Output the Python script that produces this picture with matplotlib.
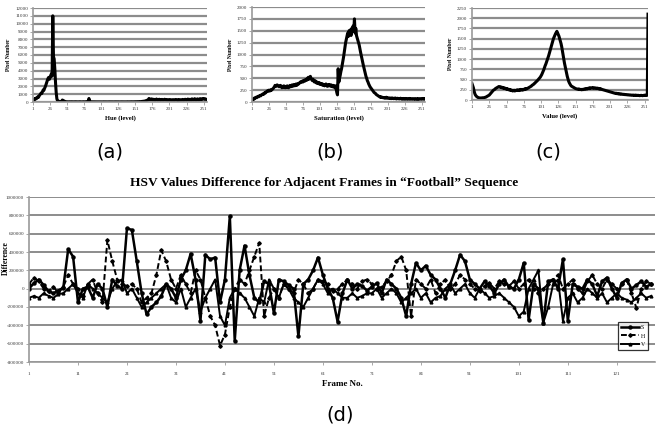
"""
HSV histogram panels (a)-(c) and frame-difference plot (d)
"""

import matplotlib
matplotlib.use('Agg')
import matplotlib.pyplot as plt
import numpy as np

# ---- data -------------------------------------------------------------
hue_counts = [
    300, 250, 380, 350, 480, 420, 560, 650, 600, 780, 900, 1000, 1150, 1100, 1350, 1550,
    1500, 1750, 1950, 2200, 2500, 2750, 3000, 3150, 2900, 3100, 3400, 3600, 3300, 11000, 5800, 5500,
    4200, 2500, 1200, 400, 150, 100, 80, 60, 50, 40, 60, 250, 200, 150, 100, 60,
    40, 30, 25, 30, 20, 25, 30, 20, 25, 30, 20, 15, 25, 20, 30, 25,
    20, 25, 15, 20, 25, 30, 20, 15, 20, 25, 30, 20, 25, 20, 30, 40,
    30, 50, 450, 80, 30, 25, 20, 15, 20, 25, 20, 15, 10, 15, 20, 15,
    10, 15, 20, 15, 10, 15, 10, 20, 15, 10, 15, 20, 10, 15, 10, 15,
    20, 15, 10, 15, 20, 10, 15, 10, 15, 20, 15, 10, 15, 20, 10, 15,
    10, 15, 20, 15, 10, 15, 20, 15, 10, 15, 20, 25, 15, 20, 25, 20,
    25, 30, 20, 25, 30, 25, 30, 35, 30, 40, 35, 40, 50, 45, 50, 60,
    70, 80, 90, 100, 120, 150, 180, 220, 250, 300, 450, 380, 350, 300, 400, 330,
    280, 350, 300, 250, 320, 380, 300, 260, 310, 350, 280, 240, 300, 330, 270, 250,
    300, 350, 280, 320, 260, 240, 300, 280, 250, 310, 270, 230, 260, 300, 250, 220,
    280, 320, 260, 240, 300, 200, 260, 310, 250, 230, 280, 330, 260, 240, 300, 350,
    280, 250, 320, 380, 300, 260, 350, 300, 280, 400, 330, 290, 350, 420, 300, 280,
    350, 400, 320, 300, 380, 430, 350, 300, 400, 450, 380, 350, 420, 380, 330, 300,
]

sat_counts = [
    40, 60, 50, 80, 70, 90, 100, 90, 110, 120, 110, 130, 140, 130, 150, 160,
    170, 160, 180, 200, 190, 210, 230, 220, 240, 250, 230, 240, 260, 250, 270, 280,
    300, 320, 350, 340, 330, 360, 350, 340, 320, 330, 350, 320, 300, 330, 310, 340,
    320, 300, 330, 310, 340, 320, 300, 330, 350, 320, 340, 360, 330, 350, 370, 340,
    360, 380, 350, 370, 390, 380, 400, 420, 410, 430, 440, 420, 450, 460, 440, 470,
    480, 460, 500, 520, 480, 510, 540, 500, 470, 450, 480, 440, 420, 450, 430, 400,
    420, 390, 410, 380, 400, 370, 390, 360, 380, 350, 370, 340, 360, 380, 350, 330,
    360, 340, 370, 350, 330, 360, 340, 320, 350, 330, 300, 340, 280, 200, 150, 700,
    420, 500, 560, 640, 700, 780, 860, 950, 1050, 1150, 1250, 1320, 1400, 1450, 1380, 1500,
    1460, 1520, 1400, 1550, 1480, 1600, 1500, 1750, 1450, 1550, 1400, 1350, 1300, 1250, 1200, 1120,
    1050, 980, 900, 850, 780, 720, 650, 600, 540, 500, 450, 420, 380, 350, 320, 300,
    280, 260, 240, 220, 200, 190, 180, 160, 150, 140, 130, 120, 110, 100, 110, 95,
    100, 90, 95, 85, 90, 80, 100, 85, 90, 80, 75, 85, 80, 70, 85, 75,
    80, 70, 75, 85, 70, 65, 80, 70, 75, 65, 70, 80, 65, 70, 60, 75,
    65, 70, 60, 75, 65, 70, 60, 65, 75, 60, 70, 65, 60, 70, 65, 60,
    70, 60, 65, 70, 55, 65, 60, 70, 65, 60, 70, 65, 75, 60, 70, 65,
]

val_counts = [
    400, 350, 300, 220, 160, 120, 100, 80, 70, 60, 55, 50, 50, 45, 50, 55,
    50, 55, 60, 65, 70, 80, 90, 100, 110, 120, 140, 160, 180, 200, 220, 240,
    250, 260, 280, 290, 300, 310, 320, 330, 320, 310, 320, 300, 310, 290, 300, 280,
    290, 270, 280, 260, 270, 250, 260, 240, 250, 230, 240, 220, 230, 240, 220, 230,
    240, 230, 250, 240, 230, 250, 240, 260, 250, 240, 260, 250, 270, 260, 280, 270,
    280, 290, 300, 310, 320, 330, 340, 360, 370, 380, 400, 410, 430, 450, 460, 480,
    500, 520, 540, 560, 590, 620, 660, 700, 740, 790, 840, 880, 930, 980, 1030, 1080,
    1140, 1200, 1260, 1320, 1380, 1440, 1500, 1540, 1580, 1620, 1650, 1680, 1640, 1600, 1560, 1500,
    1450, 1380, 1300, 1200, 1100, 1000, 900, 820, 740, 660, 580, 520, 460, 420, 390, 360,
    340, 330, 320, 310, 300, 290, 280, 275, 270, 265, 260, 270, 260, 255, 260, 250,
    260, 255, 265, 270, 260, 275, 280, 270, 285, 290, 280, 300, 290, 295, 300, 290,
    300, 290, 295, 285, 290, 280, 290, 280, 270, 280, 265, 270, 260, 255, 250, 245,
    240, 235, 230, 225, 220, 215, 210, 205, 200, 195, 190, 185, 180, 175, 170, 165,
    160, 165, 155, 160, 150, 155, 145, 150, 140, 145, 140, 135, 140, 135, 130, 135,
    130, 125, 130, 125, 120, 125, 120, 115, 120, 115, 120, 110, 115, 120, 110, 115,
    110, 115, 110, 105, 110, 115, 110, 105, 110, 115, 110, 120, 115, 110, 120, 2100,
]

hist_ticks = [1, 26, 51, 76, 101, 126, 151, 176, 201, 226, 251]

# frame differences (thousands)
s_diff = [
    0, 60, 100, 40, -30, -50, -20, 10, 430, 350,
    -150, 0, 20, -100, 50, 0, -200, 100, 30, 0,
    660, 640, 300, -50, -280, -200, -150, -80, 50, 0,
    -100, 100, 200, 380, 100, -350, 370, 320, 340, -150,
    100, 790, -570, 200, 470, 150, -100, -150, 80, 50,
    -270, 100, 80, 40, 0, -520, 50, 100, 200, 340,
    150, 0, -100, -360, -50, 100, 0, 50, 30, -20,
    20, 60, -50, 100, 50, 0, -100, -300, 50, 280,
    200, 250, 150, 100, 0, -100, 50, 200, 370, 300,
    100, 50, 0, 80, 30, -50, 50, 100, 20, 0,
    100, 280, -340, 50, 0, -370, 80, 100, 0, 320,
    -350, 50, 20, 0, 100, 50, -80, 80, 120, 0,
    -100, 60, 100, 0, 40, 80, 20, 50,
]
h_diff = [
    50, 120, 80, 0, -30, 20, -50, 20, 150, 50,
    0, -80, 50, 100, -50, -150, 530, 300, 100, 50,
    30, 50, 0, -150, -100, -50, 150, 420, 300, 100,
    0, 150, 50, -50, 200, 100, -100, -300, -400, -620,
    -500, -200, 0, 100, 50, 200, 350, 500, -300, -100,
    0, -100, 50, 0, -50, 100, 50, -50, 0, 100,
    80, 50, -20, 0, 50, 100, 50, 0, 80, 100,
    50, 0, 20, 80, 150, 300, 350, 200, -300, 100,
    50, 0, 100, -50, 50, 100, 0, 50, 150, 100,
    50, 0, -20, 30, 60, 0, 80, 50, 30, 80,
    0, 50, 100, 0, -50, 0, 50, 100, 150, 0,
    50, 100, 0, -50, 80, 150, 50, 0, 100, 50,
    0, 50, 100, -50, -210, 0, 80, 50,
]
v_diff = [
    -100, -80, -100, -50, -80, -100, -60, -50, 0, 50,
    -50, -100, 50, 0, -50, -100, -150, 0, 80, 100,
    -50, 0, -100, -200, -150, -100, -50, 0, 50, -100,
    -150, 0, -200, -100, 0, -250, -100, 0, 100, -300,
    -400, -100, 0, -50, -100, -200, -300, -100, -150, 100,
    0, -100, 50, 0, -100, -150, -200, -100, 0, 100,
    50, -50, 0, -50, -100, -100, -50, -100, -80, -50,
    -50, 0, -100, -50, 0, -50, -150, -100, -50, 0,
    -100, -50, -150, -100, -80, 0, 50, -50, 0, 50,
    -50, -100, 0, -50, -100, -80, -50, -100, -150, -200,
    -300, -250, 0, 100, 200, -370, -200, 50, 100, -350,
    -100, -50, -150, -100, 0, -50, -100, -50, -150, -100,
    -50, -100, -120, -150, -100, -50, -100, -80,
]

diff_ticks = [1, 11, 21, 31, 41, 51, 61, 71, 81, 91, 101, 111, 121]
diff_yticks = [-800, -600, -400, -200, 0, 200, 400, 600, 800, 1000]
diff_ylabels = ['-800000', '-600000', '-400000', '-200000', '0',
                '200000', '400000', '600000', '800000', '1000000']

SERIF = ['Liberation Serif', 'DejaVu Serif']
W, H = 659, 430


def px_axes(fig, left, top, right, bottom):
    return fig.add_axes([left / W, 1 - bottom / H, (right - left) / W, (bottom - top) / H])


def style_axes(ax, grid_lw=1.6):
    ax.set_facecolor('white')
    ax.grid(True, axis='y', color='#8c8c8c', linewidth=grid_lw)
    ax.set_axisbelow(True)
    for s in ['top', 'right']:
        ax.spines[s].set_visible(False)
    for s in ['left', 'bottom']:
        ax.spines[s].set_color('#9a9a9a')
        ax.spines[s].set_linewidth(1.2)
    ax.tick_params(axis='both', labelsize=3.6, length=2, width=0.6,
                   colors='#9a9a9a', labelcolor='#333333', pad=1.5)
    for lab in ax.get_xticklabels() + ax.get_yticklabels():
        lab.set_family(SERIF)


fig = plt.figure(figsize=(W / 100, H / 100), dpi=100)
levels = np.arange(1, 257)

panels = [
    (hue_counts, 'Hue (level)', 12000, 1000, (33, 8, 207, 102), '(a)', 110),
    (sat_counts, 'Saturation (level)', 2000, 250, (252, 7, 425, 102), '(b)', 330),
    (val_counts, 'Value (level)', 2250, 250, (472, 8, 648, 100), '(c)', 548),
]
for counts, xlab, ymax, ystep, box, tag, tag_x in panels:
    ax = px_axes(fig, *box)
    ax.plot(levels, counts, color='black', linewidth=2.2)
    ax.set_xlim(1, 256)
    ax.set_ylim(0, ymax)
    ax.set_xticks(hist_ticks)
    ax.set_yticks(np.arange(0, ymax + 1, ystep))
    style_axes(ax)
    ax.set_xlabel(xlab, fontsize=4.8, fontweight='bold', family=SERIF, labelpad=3)
    ax.set_ylabel('Pixel Number', fontsize=4, fontweight='bold', family=SERIF, labelpad=3)
    fig.text(tag_x / W, 1 - 152 / H, tag, fontsize=14, ha='center', va='center',
             family=['DejaVu Sans'])

# ---- (d) frame differences --------------------------------------------
frames = np.arange(1, len(s_diff) + 1)
ax = px_axes(fig, 29, 197, 655, 362)
ax.plot(frames, s_diff, color='black', linewidth=1.8, marker='o', markersize=2.2, label='S')
ax.plot(frames, h_diff, color='black', linewidth=1.4, linestyle=(0, (3, 1.5)),
        marker='D', markersize=1.8, label='H')
ax.plot(frames, v_diff, color='black', linewidth=1.4, marker='^', markersize=2, label='V')
ax.set_xlim(1, 128.8)
ax.set_ylim(-800, 1000)
ax.set_xticks(diff_ticks)
ax.set_yticks(diff_yticks)
ax.set_yticklabels(diff_ylabels)
style_axes(ax, grid_lw=1.4)
ax.tick_params(axis='x', pad=5)
ax.set_xlabel('Frame No.', fontsize=6.5, fontweight='bold', family=SERIF, labelpad=3)
fig.text(324 / W, 1 - 183 / H,
         'HSV Values Difference for Adjacent Frames in \u201cFootball\u201d Sequence',
         fontsize=9.6, fontweight='bold', family=SERIF, ha='center', va='center')
fig.text(6 / W, 1 - 258 / H, 'Difference', rotation=90, fontsize=5.5, fontweight='bold',
         family=SERIF, ha='center', va='center')
leg = ax.legend(loc='upper right', bbox_to_anchor=(651 / W, 1 - 319 / H),
                bbox_transform=fig.transFigure, frameon=True,
                fancybox=False, handlelength=3.2, borderpad=0.5, labelspacing=0.6,
                handletextpad=0.3, prop={'family': SERIF, 'size': 4.2})
leg.get_frame().set_edgecolor('black')
leg.get_frame().set_linewidth(0.9)

fig.text(340 / W, 1 - 415 / H, '(d)', fontsize=14, ha='center', va='center',
         family=['DejaVu Sans'])

plt.savefig('out.png', dpi=100)
